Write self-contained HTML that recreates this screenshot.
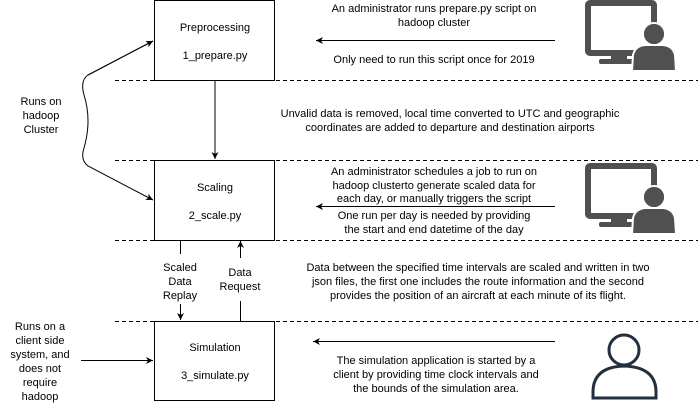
<!DOCTYPE html>
<html><head><meta charset="utf-8"><style>
html,body{margin:0;padding:0;background:#fff;}
svg{display:block;font-family:"Liberation Sans",Arial,sans-serif;font-size:11px;}
</style></head><body>
<svg width="698" height="403" viewBox="0 0 698 403" xmlns="http://www.w3.org/2000/svg">
<defs>
<marker id="a" markerWidth="8" markerHeight="8" refX="7" refY="4" orient="auto" markerUnits="userSpaceOnUse">
<path d="M0,0.5 L7,4 L0,7.5 L2,4 Z" fill="#000"/>
</marker>
<g id="mon">
<rect x="588" y="3" width="66" height="50" rx="2" fill="none" stroke="#505050" stroke-width="6"/>
<rect x="611" y="55" width="16" height="6" fill="#505050"/>
<rect x="599" y="59" width="38" height="5" rx="2" fill="#505050"/>
<circle cx="654" cy="34" r="11" fill="#505050" stroke="#fff" stroke-width="2"/>
<path d="M632,71 L633,55 Q635,46 645,45 L663,45 Q673,46 675,55 L676,71 Z" fill="#505050" stroke="#fff" stroke-width="2"/>
<circle cx="654" cy="34" r="10" fill="#505050"/>
</g>
</defs>
<g stroke="#000" stroke-dasharray="4,3" stroke-width="1">
<line x1="115" y1="80.5" x2="698" y2="80.5"/>
<line x1="115" y1="160.5" x2="698" y2="160.5"/>
<line x1="115" y1="240.5" x2="698" y2="240.5"/>
<line x1="115" y1="321.5" x2="698" y2="321.5"/>
</g>
<g fill="#fff" stroke="#000" stroke-width="1">
<rect x="154.5" y="0.5" width="120" height="80"/>
<rect x="154.5" y="160.5" width="120" height="80"/>
<rect x="154.5" y="321.5" width="120" height="79"/>
</g>
<g text-anchor="middle" fill="#000">
<text x="215" y="31">Preprocessing</text>
<text x="215" y="59">1_prepare.py</text>
<text x="215" y="191">Scaling</text>
<text x="215" y="219">2_scale.py</text>
<text x="215" y="351">Simulation</text>
<text x="215" y="379">3_simulate.py</text>
<text x="41" y="105">Runs on</text>
<text x="41" y="119">hadoop</text>
<text x="41" y="133">Cluster</text>
<text x="40" y="330">Runs on a</text>
<text x="40" y="344">client side</text>
<text x="40" y="358">system, and</text>
<text x="40" y="372">does not</text>
<text x="40" y="386">require</text>
<text x="40" y="400">hadoop</text>
<text x="180" y="271">Scaled</text>
<text x="180" y="285">Data</text>
<text x="180" y="299">Replay</text>
<text x="240" y="276">Data</text>
<text x="240" y="290">Request</text>
<text x="434" y="12">An administrator runs prepare.py script on</text>
<text x="434" y="26">hadoop cluster</text>
<text x="434" y="63">Only need to run this script once for 2019</text>
<text x="450" y="117">Unvalid data is removed, local time converted to UTC and geographic</text>
<text x="450" y="131">coordinates are added to departure and destination airports</text>
<text x="434" y="175">An administrator schedules a job to run on</text>
<text x="434" y="189">hadoop clusterto generate scaled data for</text>
<text x="434" y="202">each day, or manually triggers the script</text>
<text x="434" y="219">One run per day is needed by providing</text>
<text x="434" y="233">the start and end datetime of the day</text>
<text x="478" y="271">Data between the specified time intervals are scaled and written in two</text>
<text x="478" y="285">json files, the first one includes the route information and the second</text>
<text x="478" y="299">provides the position of an aircraft at each minute of its flight.</text>
<text x="436" y="364">The simulation application is started by a</text>
<text x="436" y="378">client by providing time clock intervals and</text>
<text x="436" y="392">the bounds of the simulation area.</text>
</g>
<g stroke="#000" stroke-width="1" fill="none">
<line x1="215" y1="80" x2="215" y2="159" marker-end="url(#a)"/>
<line x1="555" y1="40.5" x2="316" y2="40.5" marker-end="url(#a)"/>
<line x1="555" y1="206.5" x2="316" y2="206.5" marker-end="url(#a)"/>
<line x1="555" y1="341.5" x2="313" y2="341.5" marker-end="url(#a)"/>
<line x1="81" y1="360.5" x2="153" y2="360.5" marker-end="url(#a)"/>
<line x1="180.5" y1="241" x2="180.5" y2="254"/>
<line x1="180.5" y1="304" x2="180.5" y2="320" marker-end="url(#a)"/>
<line x1="240.5" y1="301" x2="240.5" y2="321"/>
<line x1="240.5" y1="258" x2="240.5" y2="241" marker-end="url(#a)"/>
<path d="M153,41 L88,75 Q80,80 84,95 Q92,120 84,148 Q80,160 88,166 L153,200" marker-end="url(#a)"/>
<path d="M88,75 L153,41" marker-end="url(#a)"/>
</g>
<use href="#mon"/>
<use href="#mon" y="163"/>
<g fill="none" stroke="#232F3E" stroke-width="3">
<circle cx="624" cy="350" r="15"/>
<path d="M593,398 L593,392 Q593,367 624,366 Q656,367 656,392 L656,398 Z"/>
</g>
</svg>
</body></html>
